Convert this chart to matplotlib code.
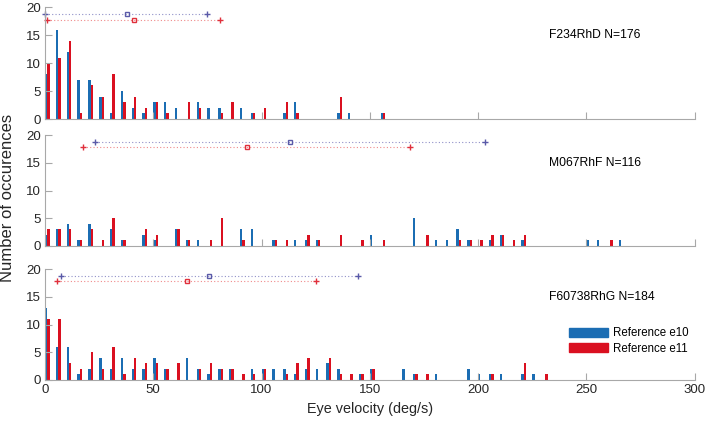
import numpy as np
import matplotlib
matplotlib.use('Agg')
import matplotlib.pyplot as plt
from matplotlib.patches import Patch

plt.rcParams['font.family'] = ['Liberation Sans', 'DejaVu Sans']

# histogram bins (left edge, deg/s) and counts, one block per animal
top_bins = [0, 5, 10, 15, 20, 25, 30, 35, 40, 45, 50, 55, 60, 65, 70, 75, 80, 85, 90, 95,
            100, 110, 115, 135, 140, 155]
top_e10 = [8, 16, 12, 7, 7, 4, 1, 5, 2, 1, 3, 3, 2, 0, 3, 2, 2, 0, 2, 1, 0, 1, 3, 1, 1, 1]
top_e11 = [10, 11, 14, 1, 6, 4, 8, 3, 4, 2, 3, 1, 0, 3, 2, 0, 1, 3, 0, 1, 2, 3, 1, 4, 0, 1]

mid_bins = [0, 5, 10, 15, 20, 25, 30, 35, 45, 50, 60, 65, 70, 75, 80, 90, 95, 105, 110, 115,
            120, 125, 135, 145, 150, 155, 170, 175, 180, 185, 190, 195, 200, 205, 210, 215,
            220, 250, 255, 260, 265]
mid_e10 = [2, 3, 4, 1, 4, 0, 3, 1, 2, 1, 3, 1, 1, 0, 0, 3, 3, 1, 0, 1,
           1, 1, 0, 0, 2, 0, 5, 0, 1, 1, 3, 1, 0, 1, 2, 0, 1, 1, 1, 0, 1]
mid_e11 = [3, 3, 3, 1, 3, 1, 5, 1, 3, 2, 3, 1, 0, 1, 5, 1, 0, 1, 1, 0,
           2, 1, 2, 1, 0, 1, 0, 2, 0, 0, 1, 1, 1, 2, 2, 1, 2, 0, 0, 1, 0]

bot_bins = [0, 5, 10, 15, 20, 25, 30, 35, 40, 45, 50, 55, 60, 65, 70, 75, 80, 85, 90, 95,
            100, 105, 110, 115, 120, 125, 130, 135, 140, 145, 150, 165, 170, 175, 180,
            195, 200, 205, 210, 220, 225, 230]
bot_e10 = [13, 6, 6, 1, 2, 4, 2, 4, 2, 2, 4, 2, 0, 4, 2, 1, 2, 2, 0, 2,
           2, 2, 2, 1, 2, 2, 3, 2, 0, 1, 2, 2, 1, 0, 1, 2, 1, 1, 1, 1, 1, 0]
bot_e11 = [11, 11, 3, 2, 5, 2, 6, 1, 4, 3, 3, 2, 3, 0, 2, 3, 2, 2, 1, 1,
           2, 0, 1, 3, 4, 0, 4, 1, 1, 1, 2, 0, 1, 1, 0, 0, 0, 1, 0, 3, 0, 1]

# low / centre / high summary markers drawn above each histogram
top_stats_e10 = [0.0, 37.7, 74.7]
top_stats_e11 = [1.1, 41.1, 81.0]
mid_stats_e10 = [23.2, 113.2, 203.1]
mid_stats_e11 = [17.7, 93.2, 168.7]
bot_stats_e10 = [7.4, 75.9, 144.6]
bot_stats_e11 = [5.7, 65.6, 125.3]

titles = ['F234RhD N=176', 'M067RhF N=116', 'F60738RhG N=184']
legend_labels = ['Reference e10', 'Reference e11']
xticks = [0, 50, 100, 150, 200, 250, 300]
yticks = [0, 5, 10, 15, 20]

panels = [
    (top_bins, top_e10, top_e11, top_stats_e10, top_stats_e11),
    (mid_bins, mid_e10, mid_e11, mid_stats_e10, mid_stats_e11),
    (bot_bins, bot_e10, bot_e11, bot_stats_e10, bot_stats_e11),
]

blue = '#1b6db3'
red = '#da1020'
blue_mk = '#5a5aa8'
red_mk = '#e0303c'
axis_grey = '#a8a8a8'
text_col = '#262626'

fig = plt.figure(figsize=(7.08, 4.22), dpi=100)
W, H = 708.0, 422.0
x0, x1 = 45, 694.5
rows = [(7.3, 119), (135, 246), (269, 380)]

bw = 1.1
for i, (edges, e10, e11, s10, s11) in enumerate(panels):
    top, bot = rows[i]
    ax = fig.add_axes([x0 / W, 1 - bot / H, (x1 - x0) / W, (bot - top) / H])
    edges = np.array(edges, dtype=float)
    ax.bar(edges, e10, width=bw, align='edge', color=blue, linewidth=0)
    ax.bar(edges + bw, e11, width=bw, align='edge', color=red, linewidth=0)

    # summary lines
    ax.plot([s10[0], s10[2]], [18.8, 18.8], ls=(0, (1, 2)), lw=0.8, color='#9090c8', clip_on=False)
    ax.plot([s10[0], s10[2]], [18.8, 18.8], ls='none', marker='+', ms=4.8, mew=1.0,
            color=blue_mk, clip_on=False)
    ax.plot([s10[1]], [18.8], ls='none', marker='s', ms=3.2, mew=1.0, mfc='none',
            mec=blue_mk, clip_on=False)
    ax.plot([s11[0], s11[2]], [17.8, 17.8], ls=(0, (1, 2)), lw=0.8, color='#f08a8a', clip_on=False)
    ax.plot([s11[0], s11[2]], [17.8, 17.8], ls='none', marker='+', ms=4.8, mew=1.0,
            color=red_mk, clip_on=False)
    ax.plot([s11[1]], [17.8], ls='none', marker='s', ms=3.2, mew=1.0, mfc='none',
            mec=red_mk, clip_on=False)

    ax.text(233, 15, titles[i], fontsize=8.7, color='black', va='center', ha='left')

    ax.set_xlim(0, 300)
    ax.set_ylim(0, 20)
    ax.set_xticks(xticks)
    ax.set_yticks(yticks)
    for s in ['top', 'right']:
        ax.spines[s].set_visible(False)
    for s in ['left', 'bottom']:
        ax.spines[s].set_color(axis_grey)
        ax.spines[s].set_linewidth(0.8)
    ax.tick_params(direction='in', length=4.7, width=0.8, color=axis_grey,
                   labelcolor=text_col, labelsize=9.5, pad=3)
    if i < 2:
        ax.set_xticklabels([])
    else:
        ax.set_xlabel('Eye velocity (deg/s)', fontsize=10.4, color=text_col, labelpad=4)
        handles = [Patch(color=blue), Patch(color=red)]
        ax.legend(handles, legend_labels, loc='upper left', bbox_to_anchor=(0.807, 0.475),
                  frameon=False, fontsize=8.3, handlelength=3.4, handleheight=0.87,
                  handletextpad=0.43, labelspacing=0.3, borderpad=0, borderaxespad=0)

fig.text(8 / W, 1 - 198 / H, 'Number of occurences', rotation=90, fontsize=12,
         color=text_col, ha='center', va='center')

fig.savefig('out.png', dpi=100)
